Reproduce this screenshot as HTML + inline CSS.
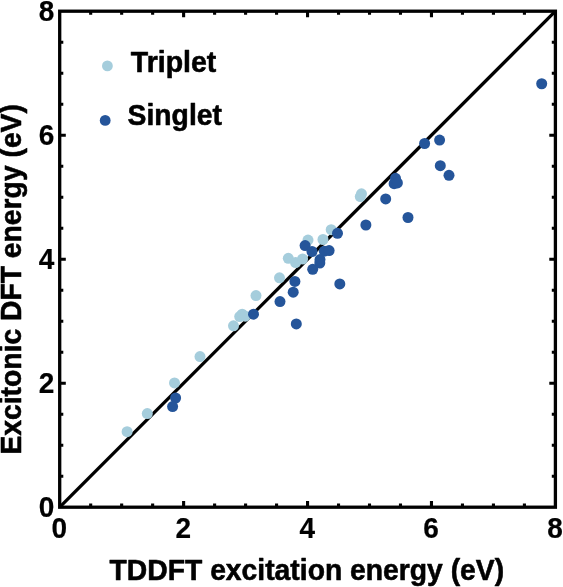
<!DOCTYPE html>
<html><head><meta charset="utf-8"><title>Excitonic DFT vs TDDFT</title>
<style>html,body{margin:0;padding:0;background:#fff}svg{display:block;will-change:transform;opacity:.999}text{font-family:"Liberation Sans",Arial,sans-serif;font-weight:bold;fill:#000;stroke:#000;stroke-width:.55px;stroke-linejoin:round}</style></head><body>
<svg width="563" height="587" viewBox="0 0 563 587">
<rect width="563" height="587" fill="#fff"/>
<line x1="59.7" y1="507.2" x2="555.4" y2="11.2" stroke="#000" stroke-width="3.3"/>
<path d="M90.68 507.2 v-3.6 M90.68 11.2 v3.6 M59.7 476.20 h3.6 M555.4 476.20 h-3.6 M121.66 507.2 v-3.6 M121.66 11.2 v3.6 M59.7 445.20 h3.6 M555.4 445.20 h-3.6 M152.64 507.2 v-3.6 M152.64 11.2 v3.6 M59.7 414.20 h3.6 M555.4 414.20 h-3.6 M183.62 507.2 v-6.1 M183.62 11.2 v6.1 M59.7 383.20 h6.1 M555.4 383.20 h-6.1 M214.61 507.2 v-3.6 M214.61 11.2 v3.6 M59.7 352.20 h3.6 M555.4 352.20 h-3.6 M245.59 507.2 v-3.6 M245.59 11.2 v3.6 M59.7 321.20 h3.6 M555.4 321.20 h-3.6 M276.57 507.2 v-3.6 M276.57 11.2 v3.6 M59.7 290.20 h3.6 M555.4 290.20 h-3.6 M307.55 507.2 v-6.1 M307.55 11.2 v6.1 M59.7 259.20 h6.1 M555.4 259.20 h-6.1 M338.53 507.2 v-3.6 M338.53 11.2 v3.6 M59.7 228.20 h3.6 M555.4 228.20 h-3.6 M369.51 507.2 v-3.6 M369.51 11.2 v3.6 M59.7 197.20 h3.6 M555.4 197.20 h-3.6 M400.49 507.2 v-3.6 M400.49 11.2 v3.6 M59.7 166.20 h3.6 M555.4 166.20 h-3.6 M431.47 507.2 v-6.1 M431.47 11.2 v6.1 M59.7 135.20 h6.1 M555.4 135.20 h-6.1 M462.46 507.2 v-3.6 M462.46 11.2 v3.6 M59.7 104.20 h3.6 M555.4 104.20 h-3.6 M493.44 507.2 v-3.6 M493.44 11.2 v3.6 M59.7 73.20 h3.6 M555.4 73.20 h-3.6 M524.42 507.2 v-3.6 M524.42 11.2 v3.6 M59.7 42.20 h3.6 M555.4 42.20 h-3.6" stroke="#000" stroke-width="3.1" fill="none"/>
<rect x="59.7" y="11.2" width="495.70" height="496.00" fill="none" stroke="#000" stroke-width="3.3"/>
<g fill="#a5cddc"><circle cx="127.1" cy="431.7" r="5.5"/><circle cx="147.3" cy="413.6" r="5.5"/><circle cx="174.5" cy="382.9" r="5.5"/><circle cx="200" cy="356.6" r="5.5"/><circle cx="233.5" cy="325.8" r="5.5"/><circle cx="239.7" cy="316.6" r="5.5"/><circle cx="242.2" cy="314.2" r="5.5"/><circle cx="245.3" cy="316.2" r="5.5"/><circle cx="256" cy="295.6" r="5.5"/><circle cx="279.5" cy="277.8" r="5.5"/><circle cx="288.3" cy="258.3" r="5.5"/><circle cx="295.6" cy="262.5" r="5.5"/><circle cx="302.6" cy="259.0" r="5.5"/><circle cx="308" cy="240.1" r="5.5"/><circle cx="323" cy="239.5" r="5.5"/><circle cx="331.2" cy="229.7" r="5.5"/><circle cx="361.5" cy="193.8" r="5.5"/><circle cx="360.3" cy="196.6" r="5.5"/></g>
<g fill="#25559a"><circle cx="175.6" cy="398.0" r="5.5"/><circle cx="172.6" cy="406.6" r="5.5"/><circle cx="253.5" cy="314.2" r="5.5"/><circle cx="280" cy="301.6" r="5.5"/><circle cx="293.2" cy="292.2" r="5.5"/><circle cx="294.9" cy="281.4" r="5.5"/><circle cx="296.3" cy="323.9" r="5.5"/><circle cx="305.1" cy="245.6" r="5.5"/><circle cx="312.0" cy="251.5" r="5.5"/><circle cx="324.3" cy="251.2" r="5.5"/><circle cx="329.1" cy="250.6" r="5.5"/><circle cx="320" cy="259.6" r="5.5"/><circle cx="319.8" cy="263.0" r="5.5"/><circle cx="312.7" cy="269.3" r="5.5"/><circle cx="337.5" cy="233.3" r="5.5"/><circle cx="339.8" cy="283.9" r="5.5"/><circle cx="365.9" cy="225" r="5.5"/><circle cx="385.7" cy="198.9" r="5.5"/><circle cx="395.5" cy="178.3" r="5.5"/><circle cx="394.1" cy="183.7" r="5.5"/><circle cx="397.4" cy="182.9" r="5.5"/><circle cx="408" cy="217.5" r="5.5"/><circle cx="424.6" cy="143.5" r="5.5"/><circle cx="439.6" cy="140.1" r="5.5"/><circle cx="440.3" cy="165.7" r="5.5"/><circle cx="449" cy="175.3" r="5.5"/><circle cx="541.7" cy="83.75" r="5.5"/></g>
<circle cx="107.4" cy="65.9" r="5.4" fill="#a5cddc"/><circle cx="105.2" cy="120.4" r="5.4" fill="#25559a"/>
<text transform="translate(130.8 71.6) scale(1 1.04)" font-size="28.5" text-anchor="start">Triplet</text>
<text transform="translate(127.6 124.8) scale(1 1.04)" font-size="28.3" text-anchor="start">Singlet</text>
<text transform="translate(59.3 537.85) scale(1 1.04)" font-size="28.0" text-anchor="middle" style="stroke-width:0.2px">0</text>
<text transform="translate(54.4 517.3) scale(1 1.04)" font-size="28.0" text-anchor="end" style="stroke-width:0.2px">0</text>
<text transform="translate(183.2 537.85) scale(1 1.04)" font-size="28.0" text-anchor="middle" style="stroke-width:0.2px">2</text>
<text transform="translate(54.4 393.3) scale(1 1.04)" font-size="28.0" text-anchor="end" style="stroke-width:0.2px">2</text>
<text transform="translate(307.2 537.85) scale(1 1.04)" font-size="28.0" text-anchor="middle" style="stroke-width:0.2px">4</text>
<text transform="translate(54.4 269.3) scale(1 1.04)" font-size="28.0" text-anchor="end" style="stroke-width:0.2px">4</text>
<text transform="translate(431.1 537.85) scale(1 1.04)" font-size="28.0" text-anchor="middle" style="stroke-width:0.2px">6</text>
<text transform="translate(54.4 145.3) scale(1 1.04)" font-size="28.0" text-anchor="end" style="stroke-width:0.2px">6</text>
<text transform="translate(555.0 537.85) scale(1 1.04)" font-size="28.0" text-anchor="middle" style="stroke-width:0.2px">8</text>
<text transform="translate(54.4 21.3) scale(1 1.04)" font-size="28.0" text-anchor="end" style="stroke-width:0.2px">8</text>
<text transform="translate(306.85 580.4) scale(1 1.04)" font-size="28.3" text-anchor="middle">TDDFT excitation energy (eV)</text>
<text transform="translate(21.2 279.35) rotate(-90) scale(1 1.04)" font-size="28.3" text-anchor="middle">Excitonic DFT energy (eV)</text>
</svg></body></html>
